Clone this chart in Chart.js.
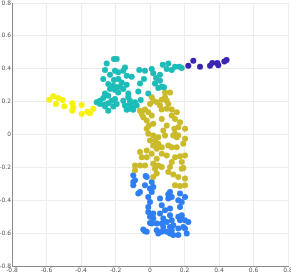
<!DOCTYPE html>
<html>
<head>
<meta charset="utf-8">
<script src="https://cdn.jsdelivr.net/npm/chart.js@4/dist/chart.umd.min.js"></script>
<style>
  html, body { margin: 0; padding: 0; background: #fff; }
  #wrap { width: 291px; height: 273px; }
</style>
</head>
<body>
<div id="wrap"><canvas id="grafico" width="291" height="273"></canvas></div>
<script>
// valores, [x, y]
const yellowPts = [
  [-0.584, 0.212], [-0.561, 0.232], [-0.532, 0.222], [-0.545, 0.186], [-0.506, 0.210],
  [-0.497, 0.172], [-0.450, 0.190], [-0.445, 0.165], [-0.450, 0.145], [-0.396, 0.180],
  [-0.396, 0.125], [-0.363, 0.139], [-0.348, 0.129], [-0.329, 0.156]
];

const cyanPts = [
  [-0.209, 0.459], [-0.193, 0.459], [-0.251, 0.432], [-0.261, 0.392], [-0.232, 0.364],
  [-0.271, 0.338], [-0.203, 0.388], [-0.184, 0.378], [-0.155, 0.388], [-0.145, 0.408],
  [-0.135, 0.358], [-0.106, 0.352], [-0.209, 0.332], [-0.184, 0.338], [-0.164, 0.317],
  [-0.242, 0.307], [-0.213, 0.297], [-0.193, 0.287], [-0.174, 0.291], [-0.155, 0.277],
  [-0.135, 0.303], [-0.203, 0.271], [-0.232, 0.277], [-0.184, 0.256], [-0.126, 0.250],
  [-0.062, 0.392], [-0.029, 0.388], [-0.035, 0.338], [-0.058, 0.311], [-0.068, 0.262],
  [-0.010, 0.250], [-0.054, 0.210], [0.010, 0.398], [0.019, 0.372], [0.035, 0.344],
  [0.029, 0.311], [0.058, 0.327], [0.058, 0.364], [0.074, 0.424], [0.106, 0.432],
  [0.097, 0.398], [0.126, 0.392], [0.145, 0.412], [0.170, 0.412], [0.184, 0.404],
  [0.068, 0.291], [0.048, 0.283], [0.081, 0.288],
  [-0.261, 0.250], [-0.242, 0.236], [-0.271, 0.222], [-0.290, 0.206], [-0.309, 0.196],
  [-0.290, 0.186], [-0.261, 0.182], [-0.242, 0.190], [-0.222, 0.206], [-0.203, 0.216],
  [-0.213, 0.170], [-0.242, 0.145], [-0.261, 0.170], [-0.193, 0.186], [-0.155, 0.206],
  [-0.145, 0.176], [-0.126, 0.226], [-0.116, 0.206], [-0.116, 0.186], [-0.106, 0.165],
  [-0.087, 0.196], [-0.077, 0.176], [-0.135, 0.150], [-0.116, 0.156], [-0.097, 0.150]
];

const olivePts = [
  [0.000, 0.186], [0.010, 0.226], [0.019, 0.206], [0.039, 0.196], [0.068, 0.212],
  [0.087, 0.226], [0.097, 0.206], [0.106, 0.186], [0.058, 0.176], [0.068, 0.152],
  [0.097, 0.156], [-0.029, 0.152], [-0.058, 0.145], [-0.010, 0.135], [-0.039, 0.105],
  [-0.048, 0.125], [0.010, 0.115], [-0.019, 0.085], [-0.006, 0.055], [0.019, 0.065],
  [0.068, 0.095], [0.097, 0.055], [0.126, 0.115], [0.145, 0.095], [0.155, 0.135],
  [0.126, 0.152], [0.174, 0.075], [0.203, 0.035], [0.164, 0.044], [0.141, 0.035],
  [0.145, 0.004], [0.077, 0.024], [0.087, -0.006], [0.048, -0.016], [0.019, -0.006],
  [-0.019, 0.035], [-0.010, 0.004], [0.029, -0.036], [0.048, -0.056], [0.068, -0.077],
  [0.106, -0.067], [0.000, -0.036], [0.019, -0.067], [0.039, -0.087], [0.135, -0.006],
  [0.155, -0.016], [0.164, -0.006], [0.203, -0.026], [0.193, -0.056], [0.155, -0.077],
  [0.126, -0.077], [-0.019, -0.097], [-0.058, -0.107], [-0.048, -0.138], [-0.019, -0.138],
  [0.010, -0.117], [0.039, -0.147], [0.019, -0.178], [0.068, -0.117], [0.097, -0.127],
  [0.145, -0.138], [0.174, -0.133], [0.203, -0.127], [0.184, -0.168], [0.193, -0.204],
  [0.126, -0.168], [0.106, -0.228], [0.135, -0.244], [0.164, -0.259], [-0.058, -0.188],
  [-0.087, -0.188], [-0.029, -0.188], [0.048, -0.188], [0.039, -0.238], [0.068, -0.198],
  [0.116, -0.198], [-0.087, -0.218], [0.029, -0.208], [0.019, -0.259], [0.145, -0.309],
  [0.174, -0.313], [0.203, -0.268], [0.203, -0.309], [0.184, -0.208], [0.116, 0.255],
  [0.087, 0.255]
];

const bluePts = [
  [-0.097, -0.248], [-0.087, -0.279], [-0.097, -0.309], [-0.019, -0.259], [0.010, -0.289],
  [-0.029, -0.309], [0.000, -0.329], [0.019, -0.319], [-0.058, -0.350], [-0.068, -0.359],
  [0.010, -0.350], [-0.010, -0.380], [0.000, -0.410], [0.058, -0.390], [0.116, -0.350],
  [0.126, -0.380], [0.106, -0.390], [0.174, -0.359], [0.203, -0.380], [0.164, -0.400],
  [0.184, -0.410], [-0.010, -0.441], [0.068, -0.430], [0.087, -0.461], [0.116, -0.450],
  [0.174, -0.441], [0.019, -0.481], [0.058, -0.481], [-0.010, -0.471], [0.019, -0.511],
  [0.077, -0.511], [0.116, -0.491], [0.126, -0.521], [0.164, -0.501], [0.184, -0.491],
  [0.174, -0.521], [0.010, -0.541], [0.039, -0.541], [0.068, -0.541], [0.097, -0.532],
  [0.077, -0.562], [0.116, -0.562], [0.135, -0.552], [0.193, -0.562], [0.222, -0.532],
  [0.203, -0.521], [0.039, -0.582], [0.068, -0.592], [0.097, -0.592], [0.126, -0.582],
  [0.164, -0.572], [0.203, -0.572], [-0.039, -0.578], [-0.019, -0.592], [0.048, -0.602],
  [0.116, -0.602], [0.135, -0.612], [0.164, -0.612], [0.213, -0.602], [-0.097, -0.289],
  [-0.025, -0.253], [0.106, -0.364], [0.184, -0.511], [0.000, -0.501], [0.000, -0.538],
  [-0.029, -0.588]
];

const purplePts = [
  [0.222, 0.418], [0.251, 0.448], [0.290, 0.412], [0.348, 0.418], [0.361, 0.435],
  [0.390, 0.435], [0.396, 0.422], [0.431, 0.444], [0.444, 0.453]
];

const tickMin = -0.8;
const tickMax = 0.8;
const tickStep = 0.2;

function toXY(pts) {
  return pts.map(p => ({ x: p[0], y: p[1] }));
}

function serie(pts, cor) {
  return {
    data: toXY(pts),
    backgroundColor: cor,
    borderWidth: 0,
    pointRadius: 3,
    pointHoverRadius: 3
  };
}

// eixo fino, sem padding extra
function fixaEixo(largura, altura) {
  return (scale) => {
    if (largura != null) scale.width = largura;
    if (altura != null) scale.height = altura;
    scale.paddingLeft = 0;
    scale.paddingRight = 0;
    scale.paddingTop = 0;
    scale.paddingBottom = 0;
  };
}

const fmt = (v) => (Math.abs(v) < 1e-9 ? "0" : v.toFixed(1));

const eixoBase = {
  type: "linear",
  min: tickMin,
  max: tickMax,
  grid: { color: "#ececec", drawTicks: false, lineWidth: 1 },
  border: { color: "#8a8a8a", width: 1 },
  ticks: {
    stepSize: tickStep,
    color: "#555",
    padding: 1,
    font: { family: "DejaVu Sans", size: 6 },
    callback: fmt
  }
};

new Chart(document.getElementById("grafico").getContext("2d"), {
  type: "scatter",
  data: {
    datasets: [
      serie(yellowPts, "#f6f20c"),
      serie(cyanPts, "#1cbdb9"),
      serie(olivePts, "#cbbb2b"),
      serie(bluePts, "#2f7ff2"),
      serie(purplePts, "#3b24b2")
    ]
  },
  options: {
    responsive: false,
    animation: false,
    layout: { padding: { left: 0, top: 2, right: 3, bottom: 0 } },
    plugins: {
      legend: { display: false },
      tooltip: { enabled: false }
    },
    scales: {
      x: { ...eixoBase, position: "bottom", afterFit: fixaEixo(null, 7),
           ticks: { ...eixoBase.ticks, maxRotation: 0, autoSkip: false } },
      y: { ...eixoBase, position: "left", afterFit: fixaEixo(12, null),
           ticks: { ...eixoBase.ticks, autoSkip: false } }
    }
  }
});
</script>
</body>
</html>
